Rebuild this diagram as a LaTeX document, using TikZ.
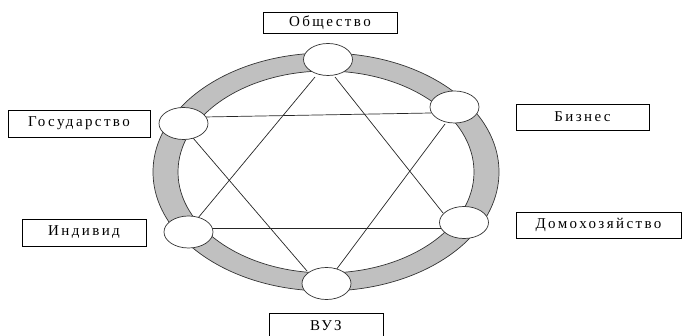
\documentclass[tikz,border=0pt]{standalone}
\usepackage{fontspec}
\setmainfont{Liberation Serif}
\usetikzlibrary{shapes.geometric}
\definecolor{ringgray}{RGB}{192,192,192}
\tikzset{
  labelbox/.style={draw=black, line width=0.9pt, fill=white, inner sep=0pt,
    font=\fontsize{15}{17}\selectfont\addfontfeatures{LetterSpace=16}},
  knot/.style={draw=black!80, line width=0.7pt, fill=white, ellipse, inner sep=0pt,
    minimum width=49pt, minimum height=32pt},
  link/.style={draw=black!85, line width=0.7pt}
}
\begin{document}
\begin{tikzpicture}[x=1pt,y=-1pt]
\useasboundingbox (0,0) rectangle (682,336);
\clip (0,0) rectangle (682,336);
% ring
\path[fill=ringgray, even odd rule] (326,172) ellipse [x radius=173, y radius=119]
  (326,172) ellipse [x radius=148, y radius=101];
\draw[black!80, line width=0.7pt] (326,172) ellipse [x radius=173, y radius=119];
\draw[black!80, line width=0.7pt] (326,172) ellipse [x radius=148, y radius=101];
% link end points
\coordinate (a1) at (315,77);  \coordinate (b1) at (198,218);
\coordinate (a2) at (335,77);  \coordinate (b2) at (443,213);
\coordinate (a3) at (212,228); \coordinate (b3) at (441,228);
\coordinate (a4) at (204,117); \coordinate (b4) at (431,113);
\coordinate (a5) at (193,138); \coordinate (b5) at (307,271);
\coordinate (a6) at (445,124); \coordinate (b6) at (336,270);
% links
\draw[link] (a1) -- (b1);
\draw[link] (a2) -- (b2);
\draw[link] (a3) -- (b3);
\draw[link] (a4) -- (b4);
\draw[link] (a5) -- (b5);
\draw[link] (a6) -- (b6);
% circles
\node[knot] (c1) at (328,59.5) {};
\node[knot] (c2) at (454.5,107) {};
\node[knot] (c3) at (183.5,123.5) {};
\node[knot] (c4) at (188.5,232) {};
\node[knot] (c5) at (464,222.5) {};
\node[knot] (c6) at (326.5,283.5) {};
% labels
\node[labelbox, minimum width=134pt, minimum height=21pt] (l1) at (330,22.5) {Общество};
\node[labelbox, minimum width=133pt, minimum height=26pt] (l2) at (582.5,117) {Бизнес};
\node[labelbox, minimum width=142pt, minimum height=27pt] (l3) at (79,123.5) {Государство};
\node[labelbox, minimum width=124pt, minimum height=27pt] (l4) at (84,232.5) {Индивид};
\node[labelbox, minimum width=165pt, minimum height=26pt] (l5) at (598.5,225) {Домохозяйство};
\node[labelbox, minimum width=114pt, minimum height=25pt, anchor=north] (l6) at (326,313) {\raisebox{-2pt}{ВУЗ}};
\end{tikzpicture}
\end{document}
